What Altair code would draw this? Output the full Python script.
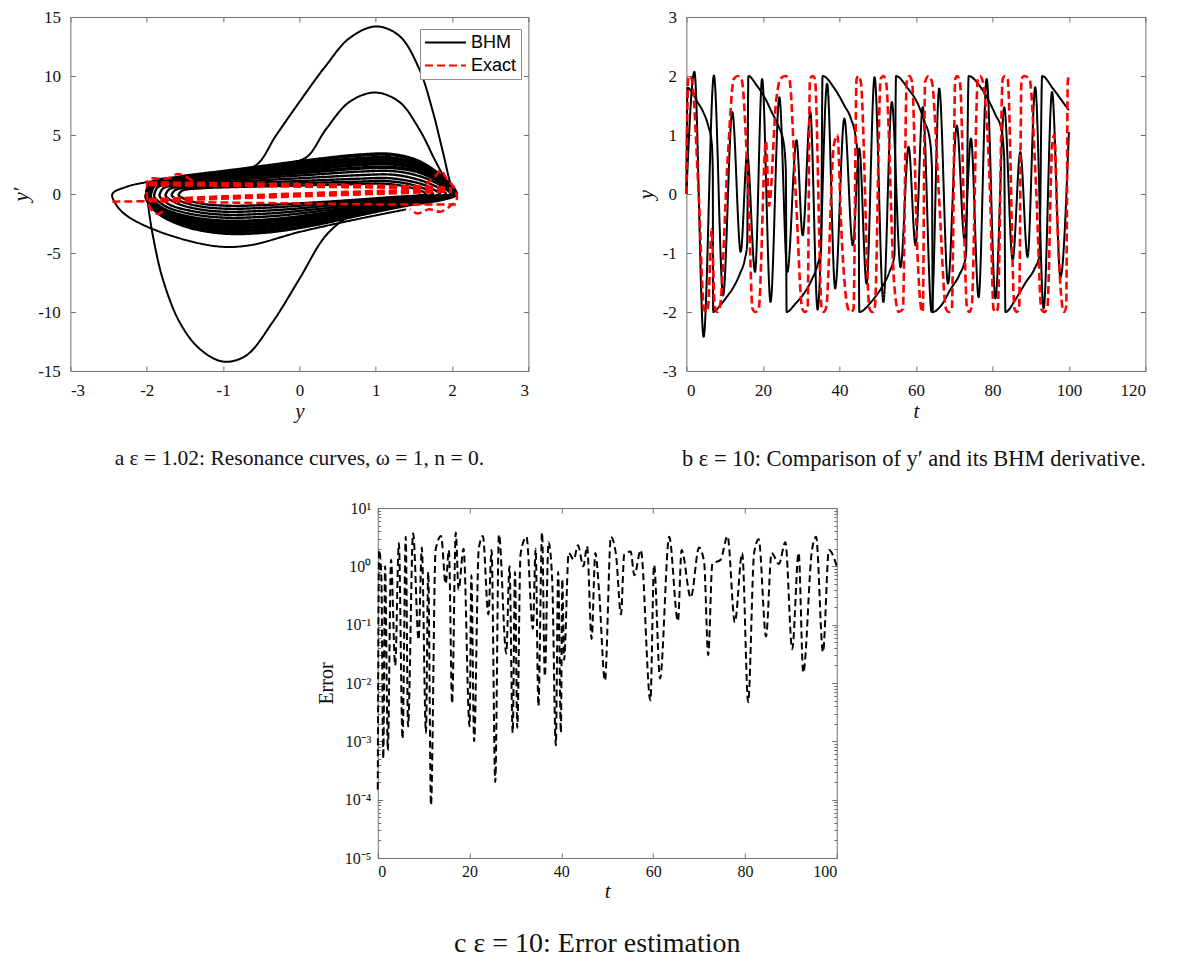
import altair as alt
import pandas as pd

# ---------------- (a) phase plane: y' against y ----------------
# start-up arcs of the BHM orbit, (y, y') pairs
arc_big_low = [(-2.0, 0.2), (-1.97, -1.5), (-1.92, -3.5), (-1.79, -7.2), (-1.57, -10.85),
               (-1.31, -13.1), (-1.0, -14.2), (-0.7, -13.7), (-0.35, -10.85), (0.0, -7.2),
               (0.35, -3.5), (0.66, -1.9), (1.0, -1.4)]
arc_big_up = [(-0.9, 1.9), (-0.57, 2.43), (-0.305, 4.97), (0.0, 7.8), (0.35, 10.9), (0.655, 13.2),
              (1.0, 14.2), (1.31, 13.4), (1.57, 10.6), (1.75, 6.95), (1.88, 3.56), (2.0, 0.5),
              (2.05, 0.0)]
arc_mid_up = [(-0.2, 2.6), (0.09, 3.1), (0.35, 5.5), (0.655, 7.8), (0.99, 8.6), (1.31, 7.8),
              (1.57, 5.5), (1.79, 2.7), (1.98, 0.5), (2.05, 0.0)]
arc_outer_left = [(-1.4, 1.5), (-2.0, 1.0), (-2.27, 0.6), (-2.45, 0.0), (-2.4, -0.9),
                  (-2.27, -1.8), (-1.83, -3.2), (-1.09, -4.43), (-0.655, -4.35), (0.0, -3.22),
                  (0.79, -2.09), (1.4, -1.3)]

# nested loops of the settled BHM orbit, outermost first
band_1 = [(-2.0, 0.0), (-1.95, 0.9), (-1.6, 1.4), (-1.0, 1.9), (-0.4, 2.4), (0.2, 2.9), (0.8, 3.3),
          (1.2, 3.35), (1.55, 2.8), (1.8, 1.8), (1.97, 0.8), (2.05, 0.0), (1.9, -0.4), (1.4, -0.95),
          (0.8, -1.75), (0.2, -2.6), (-0.4, -3.2), (-1.0, -3.3), (-1.5, -2.7), (-1.85, -1.6),
          (-2.0, -0.4), (-2.0, 0.0)]
band_2 = [(-2.0, 0.0), (-1.95, 0.85), (-1.6, 1.3), (-1.0, 1.75), (-0.4, 2.2), (0.2, 2.65), (0.8, 3.0),
          (1.2, 3.05), (1.55, 2.55), (1.8, 1.65), (1.97, 0.75), (2.05, 0.0), (1.9, -0.35), (1.4, -0.85),
          (0.8, -1.6), (0.2, -2.35), (-0.4, -2.95), (-1.0, -3.05), (-1.5, -2.5), (-1.85, -1.5),
          (-2.0, -0.4), (-2.0, 0.0)]
band_3 = [(-2.0, 0.0), (-1.95, 0.8), (-1.6, 1.2), (-1.0, 1.6), (-0.4, 2.0), (0.2, 2.4), (0.8, 2.75),
          (1.2, 2.8), (1.55, 2.35), (1.8, 1.5), (1.97, 0.7), (2.05, 0.0), (1.9, -0.3), (1.4, -0.75),
          (0.8, -1.45), (0.2, -2.15), (-0.4, -2.7), (-1.0, -2.8), (-1.5, -2.3), (-1.85, -1.4),
          (-2.0, -0.35), (-2.0, 0.0)]
band_4 = [(-1.98, 0.0), (-1.93, 0.75), (-1.6, 1.1), (-1.0, 1.45), (-0.4, 1.8), (0.2, 2.15), (0.8, 2.5),
          (1.2, 2.55), (1.55, 2.15), (1.8, 1.4), (1.96, 0.65), (2.04, 0.0), (1.9, -0.28), (1.4, -0.7),
          (0.8, -1.3), (0.2, -1.95), (-0.4, -2.45), (-1.0, -2.55), (-1.5, -2.1), (-1.84, -1.3),
          (-1.98, -0.3), (-1.98, 0.0)]
band_5 = [(-1.95, 0.0), (-1.9, 0.7), (-1.55, 1.0), (-1.0, 1.3), (-0.4, 1.6), (0.2, 1.9), (0.8, 2.2),
          (1.2, 2.25), (1.55, 1.9), (1.78, 1.25), (1.94, 0.6), (2.02, 0.0), (1.88, -0.25), (1.4, -0.6),
          (0.8, -1.15), (0.2, -1.75), (-0.4, -2.2), (-1.0, -2.3), (-1.48, -1.9), (-1.8, -1.2),
          (-1.95, -0.3), (-1.95, 0.0)]
band_6 = [(-1.9, 0.0), (-1.85, 0.6), (-1.5, 0.9), (-1.0, 1.15), (-0.4, 1.4), (0.2, 1.65), (0.8, 1.9),
          (1.2, 1.95), (1.5, 1.65), (1.74, 1.1), (1.9, 0.5), (1.98, 0.0), (1.85, -0.22), (1.4, -0.5),
          (0.8, -1.0), (0.2, -1.5), (-0.4, -1.9), (-1.0, -2.0), (-1.45, -1.65), (-1.75, -1.05),
          (-1.9, -0.25), (-1.9, 0.0)]
band_7 = [(-1.83, 0.0), (-1.78, 0.5), (-1.45, 0.8), (-1.0, 1.0), (-0.4, 1.2), (0.2, 1.4), (0.8, 1.6),
          (1.2, 1.65), (1.45, 1.4), (1.68, 0.95), (1.84, 0.45), (1.92, 0.0), (1.8, -0.2), (1.4, -0.42),
          (0.8, -0.85), (0.2, -1.3), (-0.4, -1.65), (-1.0, -1.75), (-1.4, -1.45), (-1.7, -0.9),
          (-1.83, -0.2), (-1.83, 0.0)]
band_8 = [(-1.75, 0.0), (-1.7, 0.42), (-1.4, 0.7), (-1.0, 0.85), (-0.4, 1.0), (0.2, 1.15), (0.8, 1.3),
          (1.15, 1.35), (1.4, 1.15), (1.62, 0.8), (1.76, 0.38), (1.84, 0.0), (1.72, -0.18),
          (1.35, -0.36), (0.8, -0.7), (0.2, -1.1), (-0.4, -1.4), (-1.0, -1.5), (-1.35, -1.25),
          (-1.62, -0.75), (-1.75, -0.18), (-1.75, 0.0)]
band_9 = [(-1.67, 0.0), (-1.62, 0.36), (-1.35, 0.58), (-1.0, 0.7), (-0.4, 0.82), (0.2, 0.95),
          (0.8, 1.05), (1.1, 1.1), (1.35, 0.95), (1.55, 0.65), (1.68, 0.32), (1.75, 0.0),
          (1.64, -0.15), (1.3, -0.3), (0.8, -0.58), (0.2, -0.9), (-0.4, -1.15), (-0.95, -1.25),
          (-1.3, -1.05), (-1.55, -0.62), (-1.67, -0.15), (-1.67, 0.0)]
band_10 = [(-1.58, 0.0), (-1.53, 0.3), (-1.3, 0.48), (-0.9, 0.58), (-0.4, 0.66), (0.2, 0.75),
           (0.8, 0.85), (1.05, 0.88), (1.3, 0.75), (1.48, 0.5), (1.6, 0.25), (1.66, 0.0),
           (1.56, -0.12), (1.25, -0.25), (0.8, -0.46), (0.2, -0.72), (-0.4, -0.92), (-0.9, -1.0),
           (-1.25, -0.85), (-1.47, -0.5), (-1.58, -0.12), (-1.58, 0.0)]

# exact-solution traces in the phase plane
exact_top = [(-1.97, 0.98), (-1.0, 0.92), (0.0, 0.83), (1.0, 0.72), (1.7, 0.62), (2.0, 0.5)]
exact_top2 = [(-1.97, 0.88), (-1.0, 0.82), (0.0, 0.74), (1.0, 0.64), (1.7, 0.56), (2.0, 0.46)]
exact_top3 = [(-1.97, 0.75), (-1.0, 0.7), (0.0, 0.62), (1.0, 0.55), (2.0, 0.42)]
exact_diag = [(-1.97, -0.45), (-1.0, -0.2), (0.0, 0.05), (1.0, 0.25), (2.0, 0.38)]
exact_diag2 = [(-1.97, -0.6), (-1.0, -0.4), (0.0, -0.2), (1.0, 0.0), (2.0, 0.2)]
exact_diag3 = [(-1.97, -0.52), (-1.0, -0.3), (0.0, -0.08), (1.0, 0.12), (2.0, 0.3)]
exact_low = [(-2.45, -0.65), (-2.0, -0.62), (-1.0, -0.72), (0.0, -0.8), (1.0, -0.88), (2.05, -0.9)]
exact_left = [(-1.4, 1.1), (-1.5, 1.5), (-1.6, 1.7), (-1.7, 1.35), (-1.82, 1.3), (-1.97, 1.25),
              (-2.0, 0.4), (-1.98, -0.8), (-1.93, -1.4), (-1.85, -1.7), (-1.75, -1.2)]
exact_right = [(1.65, 0.8), (1.78, 1.5), (1.85, 2.0), (1.93, 1.3), (2.04, 0.4), (2.06, -0.5),
               (1.98, -1.0), (1.85, -1.5), (1.7, -1.3), (1.55, -1.65), (1.45, -1.3)]

# ---------------- (b) time histories, (t, y) pairs ----------------
bhm_slow = [(0.0, 0.0), (0.3, 1.80), (1.5, 1.72), (2.7, 1.58), (4.4, 1.39), (5.7, 1.16), (6.6, 0.88),
            (6.9, 0.40), (7.0, -2.00), (8.8, -1.89), (10.5, -1.75), (12.3, -1.58), (14.0, -1.35),
            (15.3, -1.10), (15.9, -0.85), (16.2, 2.00), (18.4, 1.84), (20.6, 1.62), (22.3, 1.39),
            (24.0, 1.16), (25.4, 0.88), (26.0, 0.40), (26.2, -2.00), (28.5, -1.86), (30.8, -1.68),
            (32.8, -1.45), (34.3, -1.20), (35.2, -0.95), (35.6, 2.00), (38.7, 1.79), (41.3, 1.50),
            (43.0, 1.28), (44.3, 0.94), (45.0, 0.45), (45.2, -2.00), (48.3, -1.83), (50.9, -1.60),
            (53.1, -1.32), (54.4, -1.04), (54.8, 2.00), (57.9, 1.79), (60.5, 1.53), (62.3, 1.22),
            (63.6, 0.94), (64.2, 0.45), (64.4, -2.00), (66.6, -1.89), (69.2, -1.60), (71.3, -1.38),
            (73.1, -1.04), (73.8, 2.00), (76.6, 1.84), (79.2, 1.56), (80.9, 1.33), (82.3, 1.11),
            (83.1, 0.60), (83.4, -2.00), (86.2, -1.77), (88.8, -1.49), (91.0, -1.27), (92.3, -1.04),
            (93.0, 2.00), (95.8, 1.79), (98.4, 1.56), (100.0, 1.42)]
bhm_fast = [(0.0, 0.0), (2.1, 2.07), (4.5, -2.42), (7.2, 2.01), (9.6, -1.72), (12.0, 1.39),
            (14.2, -0.98), (15.9, 0.68), (17.95, -1.32), (19.8, 1.95), (22.0, -1.83), (24.3, 1.64),
            (26.4, -1.32), (28.8, 0.91), (30.4, -0.70), (32.4, 1.39), (34.3, -1.96), (36.8, 1.87),
            (38.9, -1.60), (41.3, 1.28), (43.5, -0.87), (45.2, 0.77), (47.1, -1.52), (49.2, 1.98),
            (51.5, -1.83), (53.7, 1.56), (56.0, -1.24), (58.1, 0.80), (59.9, -0.87), (61.8, 1.47),
            (64.1, -2.00), (66.1, 1.79), (68.4, -1.52), (70.7, 1.16), (72.7, -0.76), (74.4, 0.94),
            (76.4, -1.75), (78.5, 1.95), (80.8, -1.77), (83.1, 1.47), (85.3, -1.12), (87.3, 0.71),
            (89.2, -1.07), (91.2, 1.81), (93.4, -1.94), (95.6, 1.73), (97.8, -1.41), (100.0, 1.05)]
exact_b = [(0.0, 0.0), (0.45, 1.95), (0.8, 2.0), (1.4, 1.95), (3.2, 0.0), (4.6, -1.95), (5.1, -2.0),
           (5.7, -1.9), (6.6, -0.6), (7.4, -1.9), (8.1, -2.0), (8.8, -1.9), (10.8, 0.6), (12.4, 1.95),
           (13.4, 2.0), (14.4, 1.95), (16.2, 0.0), (17.3, -1.95), (18.0, -2.0), (18.9, -1.95),
           (20.8, 0.9), (21.6, -0.2), (23.5, 1.6), (24.6, 1.95), (25.8, 2.0), (26.9, 1.95),
           (28.6, 0.0), (30.3, -1.95), (31.0, -2.0), (31.7, -1.95), (32.3, 1.95), (33.0, 2.0),
           (33.6, 1.95), (35.4, -1.95), (36.0, -2.0), (36.6, -1.9), (38.5, 0.8), (39.5, 1.0),
           (40.5, -0.6), (42.3, -1.95), (43.0, -2.0), (43.7, -1.95), (44.5, 1.95), (45.0, 2.0),
           (45.6, 1.9), (47.9, -1.95), (48.7, -2.0), (49.3, -1.9), (50.8, 1.95), (51.5, 2.0),
           (52.2, 1.9), (54.3, -1.5), (55.5, -2.0), (56.6, -1.95), (57.6, 1.9), (58.3, 2.0),
           (59.0, 1.9), (60.4, -1.0), (61.4, -1.95), (61.8, -2.0), (62.4, 1.9), (63.3, 2.0),
           (64.2, 1.9), (66.0, 0.0), (67.9, -1.95), (68.6, -2.0), (69.4, -1.95), (70.3, 1.95),
           (70.8, 2.0), (71.5, 1.9), (73.4, -1.95), (74.0, -2.0), (74.6, -1.9), (76.2, 1.95),
           (76.8, 2.0), (77.5, 1.9), (79.4, 0.0), (80.3, -1.95), (80.8, -2.0), (81.4, -1.95),
           (82.7, 1.95), (83.3, 2.0), (84.0, 1.95), (85.8, -1.95), (86.4, -2.0), (87.0, -1.9),
           (87.6, 1.95), (88.3, 2.0), (89.7, 1.95), (91.5, 0.0), (92.8, -1.95), (93.6, -2.0),
           (94.4, -1.9), (95.6, 0.8), (96.2, 1.0), (97.0, -0.5), (98.4, -1.95), (98.8, -2.0),
           (99.3, -1.9), (99.7, 1.9), (100.0, 2.0)]

# ---------------- (c) error between BHM and exact solution ----------------
err_t = [0.0, 0.3, 0.8, 1.2, 1.6, 2.2, 2.9, 3.8, 4.6, 5.4, 6.1, 6.6, 7.7, 8.9, 9.6, 10.5, 11.0, 11.6,
         12.6, 13.8, 14.8, 15.5, 16.2, 17.0, 17.6, 18.7, 20.0, 20.4, 21.0, 22.0, 22.9, 24.1, 24.8,
         25.6, 26.4, 28.0, 28.7, 29.4, 29.9, 30.4, 31.1, 32.4, 33.8, 34.4, 35.0, 35.8, 36.4, 37.2,
         38.0, 38.8, 39.3, 39.9, 40.2, 40.6, 41.6, 42.7, 43.6, 44.8, 45.6, 46.6, 47.4, 48.2, 49.5,
         50.8, 51.9, 53.0, 53.7, 55.1, 55.9, 57.3, 59.4, 60.2, 61.5, 63.5, 65.4, 66.2, 68.2, 70.0,
         71.1, 72.0, 72.9, 74.7, 76.2, 77.8, 79.4, 80.7, 82.0, 83.0, 84.6, 85.8, 87.4, 88.8, 90.3,
         91.7, 92.7, 94.6, 95.5, 97.0, 98.3, 100.0]
err_v = [1.5e-4, 1.9, 0.6, 5e-4, 1.0, 7e-4, 1.3, 0.02, 2.5, 1.1e-3, 3.2, 1.8e-3, 3.7, 0.055, 2.1,
         1.4e-3, 0.8, 8e-5, 1.9, 3.3, 0.5, 1.9, 4.5e-3, 3.8, 0.4, 2.0, 1.8e-3, 0.7, 1.0e-3, 2.0, 3.3,
         0.15, 1.9, 2.0e-4, 3.5, 0.032, 1.0, 1.4e-3, 0.8, 1.7e-3, 1.6, 3.2, 0.085, 2.0, 4.0e-3, 3.8,
         0.013, 2.6, 0.6, 8.5e-4, 0.8, 1.4e-3, 0.6, 0.025, 1.7, 1.3, 2.3, 1.0, 2.2, 0.057, 1.7, 0.4,
         0.011, 3.2, 1.6, 0.15, 1.6, 1.8, 0.7, 1.9, 0.005, 1.05, 0.012, 3.2, 0.115, 1.9, 0.29, 2.1,
         1.2, 0.03, 1.1, 1.3, 3.3, 0.11, 1.7, 0.0047, 1.7, 2.9, 0.063, 1.7, 1.1, 2.6, 0.038, 1.7,
         0.015, 1.9, 3.2, 0.034, 1.9, 1.0]

SERIES = ['BHM', 'Exact']
BLACK, RED = '#000000', '#ff0000'
FRAME = '#707070'
SERIF = 'Liberation Serif'
INK = '#111111'
MINUS = "datum.value < 0 ? '-' + abs(datum.value) : datum.label"
POW10 = "['10⁻⁵','10⁻⁴','10⁻³','10⁻²','10⁻¹','10⁰','10¹'][round(log(datum.value) / LN10) + 5]"


def to_frame(curves, series, xname, yname):
    rows = []
    for part, pts in curves:
        for k, (u, v) in enumerate(pts):
            rows.append({xname: u, yname: v, 'series': series, 'part': part, 'i': k})
    return pd.DataFrame(rows)


series_color = alt.Scale(domain=SERIES, range=[BLACK, RED])
series_dash = alt.Scale(domain=SERIES, range=[[1, 0], [8, 4]])


def legend_at(x, y):
    return alt.Legend(title=None, orient='none', legendX=x, legendY=y, symbolType='stroke',
                      symbolSize=1681, symbolStrokeWidth=2, labelFont='Liberation Sans',
                      labelFontSize=18, labelColor='black', labelOffset=4, padding=4,
                      rowPadding=4, clipHeight=19, strokeColor='#8c8c8c', fillColor='white')


def tick_axis(orient, values, size=5, title=None, label_expr=None, label_size=17, pad=10,
              title_pad=4, title_style='italic', title_size=21, labels=True):
    kw = dict(orient=orient, values=values, offset=-size, tickSize=size, labels=labels,
              domain=False, grid=False, tickColor=FRAME, tickWidth=1, title=title)
    if labels:
        kw.update(labelFont=SERIF, labelFontSize=label_size, labelColor=INK, labelPadding=pad)
        if label_expr:
            kw['labelExpr'] = label_expr
    if title:
        kw.update(titleFont=SERIF, titleFontSize=title_size, titleFontStyle=title_style,
                  titleFontWeight='normal', titleColor=INK, titlePadding=title_pad)
    return alt.Axis(**kw)


def caption(text, size, offset, dx=0):
    return alt.TitleParams(text, orient='bottom', anchor='middle', frame='group', font=SERIF,
                           fontSize=size, fontWeight='normal', color=INK, offset=offset, dx=dx)


def curves(df, xf, yf, xs, ys, legend, interp, width, xaxis=None, yaxis=None):
    return alt.Chart(df).mark_line(strokeWidth=width, interpolate=interp).encode(
        x=alt.X(f'{xf}:Q', scale=xs, axis=xaxis),
        y=alt.Y(f'{yf}:Q', scale=ys, axis=yaxis),
        stroke=alt.Stroke('series:N', scale=series_color, legend=legend),
        strokeDash=alt.StrokeDash('series:N', scale=series_dash, legend=legend),
        detail='part:N',
        order='i:Q',
    )


def mirror(xf, yf, xs, ys, xdom, ydom, xvals, yvals):
    corners = pd.DataFrame({xf: xdom, yf: ydom})
    return alt.Chart(corners).mark_point(opacity=0).encode(
        x=alt.X(f'{xf}:Q', scale=xs, axis=tick_axis('top', xvals, labels=False)),
        y=alt.Y(f'{yf}:Q', scale=ys, axis=tick_axis('right', yvals, labels=False)),
    )


# ----- panel (a)
xs_a = alt.Scale(domain=[-3, 3], nice=False, zero=False)
ys_a = alt.Scale(domain=[-15, 15], nice=False, zero=False)
xv_a = [-3, -2, -1, 0, 1, 2, 3]
yv_a = [-15, -10, -5, 0, 5, 10, 15]
band_outer = to_frame([('b1', band_1), ('b2', band_2), ('b3', band_3), ('b4', band_4),
                       ('b5', band_5)], 'BHM', 'y', 'yp')
band_inner = to_frame([('b6', band_6), ('b7', band_7), ('b8', band_8), ('b9', band_9),
                       ('b10', band_10)], 'BHM', 'y', 'yp')
arcs_a = to_frame([('low', arc_big_low), ('up', arc_big_up), ('mid', arc_mid_up),
                   ('outer', arc_outer_left)], 'BHM', 'y', 'yp')
red_a = to_frame([('t1', exact_top), ('t2', exact_top2), ('t3', exact_top3), ('d1', exact_diag),
                  ('d2', exact_diag2), ('d3', exact_diag3), ('lo', exact_low), ('le', exact_left),
                  ('ri', exact_right)], 'Exact', 'y', 'yp')
leg_a = legend_at(350, 12)
panel_a = alt.layer(
    curves(arcs_a, 'y', 'yp', xs_a, ys_a, leg_a, 'catmull-rom', 2,
           tick_axis('bottom', xv_a, title='y', label_expr=MINUS, pad=11, title_pad=2),
           tick_axis('left', yv_a, title='y′', label_expr=MINUS, pad=10, title_pad=6)),
    curves(band_outer, 'y', 'yp', xs_a, ys_a, leg_a, 'catmull-rom', 3.6),
    curves(band_inner, 'y', 'yp', xs_a, ys_a, leg_a, 'catmull-rom', 2.4),
    curves(red_a, 'y', 'yp', xs_a, ys_a, leg_a, 'catmull-rom', 2.5),
    mirror('y', 'yp', xs_a, ys_a, [-3, 3], [-15, 15], xv_a, yv_a),
).resolve_axis(x='independent', y='independent').properties(
    width=458, height=354,
    title=caption('a ε = 1.02: Resonance curves, ω = 1, n = 0.', 21.5, 27))

# ----- panel (b)
xs_b = alt.Scale(domain=[0, 120], nice=False, zero=False)
ys_b = alt.Scale(domain=[-3, 3], nice=False, zero=False)
xv_b = [0, 20, 40, 60, 80, 100, 120]
yv_b = [-3, -2, -1, 0, 1, 2, 3]
black_b = to_frame([('slow', bhm_slow), ('fast', bhm_fast)], 'BHM', 't', 'y')
red_b = to_frame([('exact', exact_b)], 'Exact', 't', 'y')
leg_b = legend_at(351, 12)
panel_b = alt.layer(
    curves(black_b, 't', 'y', xs_b, ys_b, leg_b, 'monotone', 2,
           tick_axis('bottom', xv_b, title='t', label_expr=MINUS, pad=11, title_pad=2),
           tick_axis('left', yv_b, title='y', label_expr=MINUS, pad=10, title_pad=6)),
    curves(red_b, 't', 'y', xs_b, ys_b, leg_b, 'monotone', 2.6),
    mirror('t', 'y', xs_b, ys_b, [0, 120], [-3, 3], xv_b, yv_b),
).resolve_axis(x='independent', y='independent').properties(
    width=459, height=354,
    title=caption('b ε = 10: Comparison of y′ and its BHM derivative.', 22.5, 27, -2))

# ----- panel (c)
xs_c = alt.Scale(domain=[0, 100], nice=False, zero=False)
ys_c = alt.Scale(type='log', domain=[1e-5, 10], nice=False)
xv_c = [0, 20, 40, 60, 80, 100]
yv_c = [1e-5, 1e-4, 1e-3, 1e-2, 1e-1, 1, 10]
yminor_c = [k * 10.0 ** e for e in range(-5, 1) for k in range(2, 10)]
err_df = pd.DataFrame({'t': err_t, 'err': err_v})
corner_c = pd.DataFrame({'t': [0, 100], 'err': [1e-5, 10]})
err_line = alt.Chart(err_df).mark_line(color=BLACK, strokeWidth=2, strokeDash=[7, 4],
                                       interpolate='monotone').encode(
    x=alt.X('t:Q', scale=xs_c, axis=tick_axis('bottom', xv_c, title='t', label_size=16, pad=5,
                                                title_pad=1)),
    y=alt.Y('err:Q', scale=ys_c, axis=tick_axis('left', yv_c, title='Error', label_expr=POW10,
                                                  label_size=16, pad=7, title_pad=8,
                                                  title_style='normal', title_size=20)),
)
minor_left = alt.Chart(corner_c).mark_point(opacity=0).encode(
    x=alt.X('t:Q', scale=xs_c, axis=None),
    y=alt.Y('err:Q', scale=ys_c, axis=tick_axis('left', yminor_c, size=3, labels=False)))
minor_right = alt.Chart(corner_c).mark_point(opacity=0).encode(
    x=alt.X('t:Q', scale=xs_c, axis=None),
    y=alt.Y('err:Q', scale=ys_c, axis=tick_axis('right', yminor_c, size=3, labels=False)))
panel_c = alt.layer(
    err_line,
    mirror('t', 'err', xs_c, ys_c, [0, 100], [1e-5, 10], xv_c, yv_c),
    minor_left,
    minor_right,
).resolve_axis(x='independent', y='independent').properties(
    width=459, height=350, title=caption('c ε = 10: Error estimation', 28, 29, -10))

top_row = alt.hconcat(panel_a, panel_b, spacing=158, bounds='flush')
chart = alt.vconcat(top_row, panel_c, spacing=28, center=True).properties(
    padding={'left': 10, 'top': 7, 'right': 5, 'bottom': 5},
    background='white',
).configure_view(stroke=FRAME, strokeWidth=1)

chart.save('out.html', embed_options={'renderer': 'svg', 'actions': False})
